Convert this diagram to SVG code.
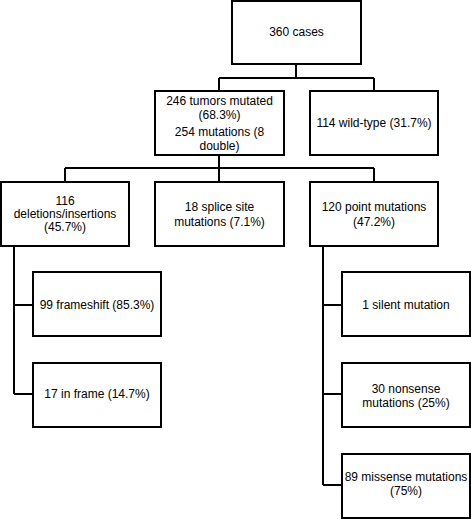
<svg xmlns="http://www.w3.org/2000/svg" width="471" height="519" viewBox="0 0 471 519">
<style>
.box{fill:#fff;stroke:#000;stroke-width:2}
.ln{fill:none;stroke:#000;stroke-width:2}
text{font-family:"Liberation Sans",Arial,sans-serif;font-size:12px;fill:#000;text-anchor:middle}
</style>
<rect width="471" height="519" fill="#fff"/>
<g id="connectors">
<path class="ln" d="M296,64V78M219,78H374M219,78V91M374,78V91"/>
<path class="ln" d="M219,155V168M65,168H374M65,168V182M219,168V182M374,168V182"/>
<path class="ln" d="M14,246V394M14,305H33M14,394H33"/>
<path class="ln" d="M323,246V485M323,305H342M323,394H342M323,485H342"/>
</g>
<g id="n360"><rect class="box" x="232" y="1" width="129" height="63"/><text x="296.5" y="36">360 cases</text></g>
<g id="n246"><rect class="box" x="155" y="91" width="129" height="64"/><text x="219.5" y="105">246 tumors mutated</text><text x="219.5" y="119">(68.3%)</text><text x="219.5" y="136">254 mutations (8</text><text x="219.5" y="150">double)</text></g>
<g id="n114"><rect class="box" x="310" y="91" width="128" height="64"/><text x="374" y="127">114 wild-type (31.7%)</text></g>
<g id="n116"><rect class="box" x="1" y="182" width="128" height="64"/><text x="65" y="205">116</text><text x="65" y="218">deletions/insertions</text><text x="65" y="231">(45.7%)</text></g>
<g id="n18"><rect class="box" x="155" y="182" width="129" height="64"/><text x="219.5" y="211">18 splice site</text><text x="219.5" y="225.5">mutations (7.1%)</text></g>
<g id="n120"><rect class="box" x="310" y="182" width="128" height="64"/><text x="374" y="211">120 point mutations</text><text x="374" y="225.5">(47.2%)</text></g>
<g id="n99"><rect class="box" x="33" y="272" width="128" height="64"/><text x="97" y="309">99 frameshift (85.3%)</text></g>
<g id="n17"><rect class="box" x="33" y="363" width="128" height="64"/><text x="97" y="398">17 in frame (14.7%)</text></g>
<g id="n1"><rect class="box" x="342" y="272" width="128" height="64"/><text x="406" y="309">1 silent mutation</text></g>
<g id="n30"><rect class="box" x="342" y="363" width="128" height="64"/><text x="406" y="392.5">30 nonsense</text><text x="406" y="407">mutations (25%)</text></g>
<g id="n89"><rect class="box" x="342" y="454" width="128" height="64"/><text x="406" y="481">89 missense mutations</text><text x="406" y="495">(75%)</text></g>
</svg>
